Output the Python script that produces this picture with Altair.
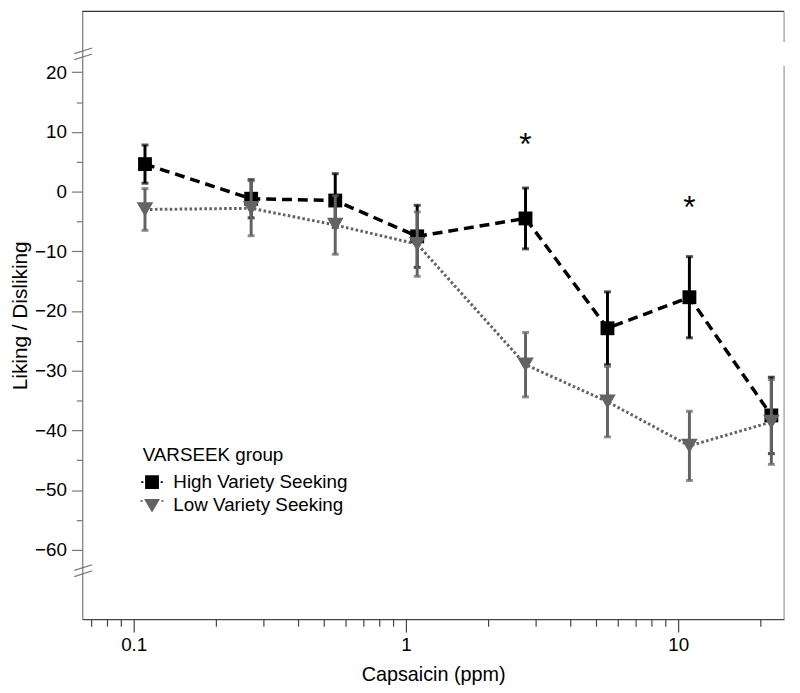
import altair as alt
import pandas as pd

# ---- data ----
conc = [0.11, 0.27, 0.55, 1.1, 2.75, 5.5, 11, 22]
high_mean = [4.6, -1.2, -1.5, -7.5, -4.5, -22.9, -17.7, -37.5]
high_se = [3.2, 3.2, 4.5, 5.2, 5.1, 6.1, 6.8, 6.4]
low_mean = [-3.0, -2.8, -5.6, -8.8, -29.0, -35.2, -42.6, -38.6]
low_se = [3.5, 4.6, 4.9, 5.4, 5.4, 5.9, 5.8, 7.1]
groups = ["High Variety Seeking", "Low Variety Seeking"]
star_conc = [2.75, 11]
star_val = [8.3, -2.2]
x_major = [0.1, 1, 10]
x_minor = [0.07, 0.08, 0.09, 0.2, 0.3, 0.4, 0.5, 0.6, 0.7, 0.8, 0.9,
           2, 3, 4, 5, 6, 7, 8, 9, 20]
y_major = list(range(-60, 30, 10))
y_minor = list(range(-55, 20, 10))

FONT = "Liberation Sans"

def frame(mean, se, group):
    return pd.DataFrame({
        "conc": conc,
        "mean": mean,
        "lo": [m - s for m, s in zip(mean, se)],
        "hi": [m + s for m, s in zip(mean, se)],
        "group": group,
    })

df_h = frame(high_mean, high_se, groups[0])
df_l = frame(low_mean, low_se, groups[1])
df_all = pd.concat([df_h, df_l], ignore_index=True)
df_star = pd.DataFrame({"conc": star_conc, "val": star_val})
one = pd.DataFrame({"k": [0]})

xs = alt.Scale(type="log", domain=[0.0647, 24.5], nice=False)
ys = alt.Scale(domain=[-71.64, 30.18], nice=False, zero=False)

x_axis_major = alt.Axis(
    orient="bottom", values=x_major, format="~g", tickSize=13,
    tickColor="#444", domainColor="#444", tickWidth=1.2, domainWidth=1.2,
    labelFont=FONT, labelFontSize=19, labelColor="black", labelPadding=4,
    titleFont=FONT, titleFontSize=20, titleFontWeight="normal", titleColor="black",
    titlePadding=10, grid=False, labelOverlap=False, labelFlush=False,
)
x_axis_minor = alt.Axis(
    orient="bottom", values=x_minor, tickSize=7, labels=False, domain=False,
    tickColor="#444", tickWidth=1.2, grid=False, title=None,
)
y_axis_major = alt.Axis(
    orient="left", values=y_major, format="d", tickSize=11,
    tickColor="#777", domainColor="#777", tickWidth=1.2, domainWidth=1.2,
    labelFont=FONT, labelFontSize=19, labelColor="black", labelPadding=5,
    titleFont=FONT, titleFontSize=21, titleFontWeight="normal", titleColor="black",
    titlePadding=4, grid=False, labelOverlap=False, labelFlush=False,
)
y_axis_minor = alt.Axis(
    orient="left", values=y_minor, tickSize=6, labels=False, domain=False,
    tickColor="#777", tickWidth=1.2, grid=False, title=None,
)

def X(field="conc:Q"):
    return alt.X(field, scale=xs, axis=None)

def Y(field):
    return alt.Y(field, scale=ys, axis=None)

def series(df, color, dash, lw, shape, size):
    base = alt.Chart(df)
    line = base.mark_line(color=color, strokeWidth=lw, strokeDash=dash, strokeCap="butt").encode(
        x=X(), y=Y("mean:Q"))
    bars = base.mark_rule(color=color, strokeWidth=3).encode(x=X(), y=Y("lo:Q"), y2="hi:Q")
    cap_lo = base.mark_tick(color=color, orient="horizontal", size=7, thickness=3).encode(
        x=X(), y=Y("lo:Q"))
    cap_hi = base.mark_tick(color=color, orient="horizontal", size=7, thickness=3).encode(
        x=X(), y=Y("hi:Q"))
    pts = base.mark_point(shape=shape, filled=True, size=size, color=color, opacity=1).encode(
        x=X(), y=Y("mean:Q"))
    return [line, bars, cap_lo, cap_hi, pts]

# axis carriers (invisible marks)
axes_major = alt.Chart(df_all).mark_point(opacity=0).encode(
    x=alt.X("conc:Q", scale=xs, axis=x_axis_major, title="Capsaicin (ppm)"),
    y=alt.Y("mean:Q", scale=ys, axis=y_axis_major, title="Liking / Disliking"),
)
axes_minor = alt.Chart(df_all).mark_point(opacity=0).encode(
    x=alt.X("conc:Q", scale=xs, axis=x_axis_minor),
    y=alt.Y("mean:Q", scale=ys, axis=y_axis_minor),
)

high_layers = series(df_h, "black", [10, 6], 3.5, "square", 196)
low_layers = series(df_l, "#636363", [2.6, 2.4], 3, "triangle-down", 280)

sq_path = "M-1,-1H1V1H-1Z M-1.55,-0.13H-1.25V0.13H-1.55Z M1.25,-0.13H1.55V0.13H1.25Z"
tri_path = "M-1.15,-0.85L1.15,-0.85L0,1.1Z M-1.65,-0.72H-1.35V-0.46H-1.65Z M1.35,-0.72H1.65V-0.46H1.35Z"

legend_layer = alt.Chart(df_all).mark_point(filled=True, size=196, opacity=0).encode(
    x=X(), y=Y("mean:Q"),
    shape=alt.Shape("group:N", scale=alt.Scale(domain=groups, range=[sq_path, tri_path]),
                    legend=alt.Legend(title="VARSEEK group")),
    color=alt.Color("group:N", scale=alt.Scale(domain=groups, range=["black", "#636363"]),
                    legend=alt.Legend(title="VARSEEK group")),
)

stars = alt.Chart(df_star).mark_text(text="*", font=FONT, fontSize=32, dy=13,
                                     baseline="alphabetic", color="black").encode(
    x=X(), y=Y("val:Q"))

def deco(x1, x2, y1, y2, color, w=1.2):
    return alt.Chart(one).mark_rule(color=color, strokeWidth=w).encode(
        x=alt.value(x1), x2=alt.value(x2), y=alt.value(y1), y2=alt.value(y2))

decos = [
    deco(0, 709, 0, 0, "#333"),            # top border
    deco(709, 709, 0, 31, "#999"),         # right border (upper piece)
    deco(709, 709, 55, 614, "#999"),       # right border (lower piece)
    deco(-8, 10, 42.7, 37, "#777"),        # axis break marks top
    deco(-8, 10, 48.7, 43, "#777"),
    deco(-8, 10, 564.7, 559, "#777"),      # axis break marks bottom
    deco(-8, 10, 571, 565, "#777"),
]

chart = alt.layer(axes_major, axes_minor, *decos, *high_layers, *low_layers, stars,
                  legend_layer).resolve_axis(x="independent", y="independent").properties(
    width=709, height=614,
    autosize=alt.AutoSizeParams(type="none"),
    padding={"left": 75, "top": 0, "right": 8, "bottom": 63},
).configure_view(stroke=None).configure_legend(
    orient="none", legendX=61, legendY=439, padding=0,
    titleFont=FONT, titleFontSize=19, titleFontWeight="normal", titleColor="black",
    labelFont=FONT, labelFontSize=19, labelColor="black", labelLimit=0,
    symbolSize=196, rowPadding=3, titlePadding=8, labelOffset=12,
    symbolOpacity=1, symbolStrokeWidth=0,
)

chart.save("out.html", embed_options={"renderer": "svg", "actions": False})
